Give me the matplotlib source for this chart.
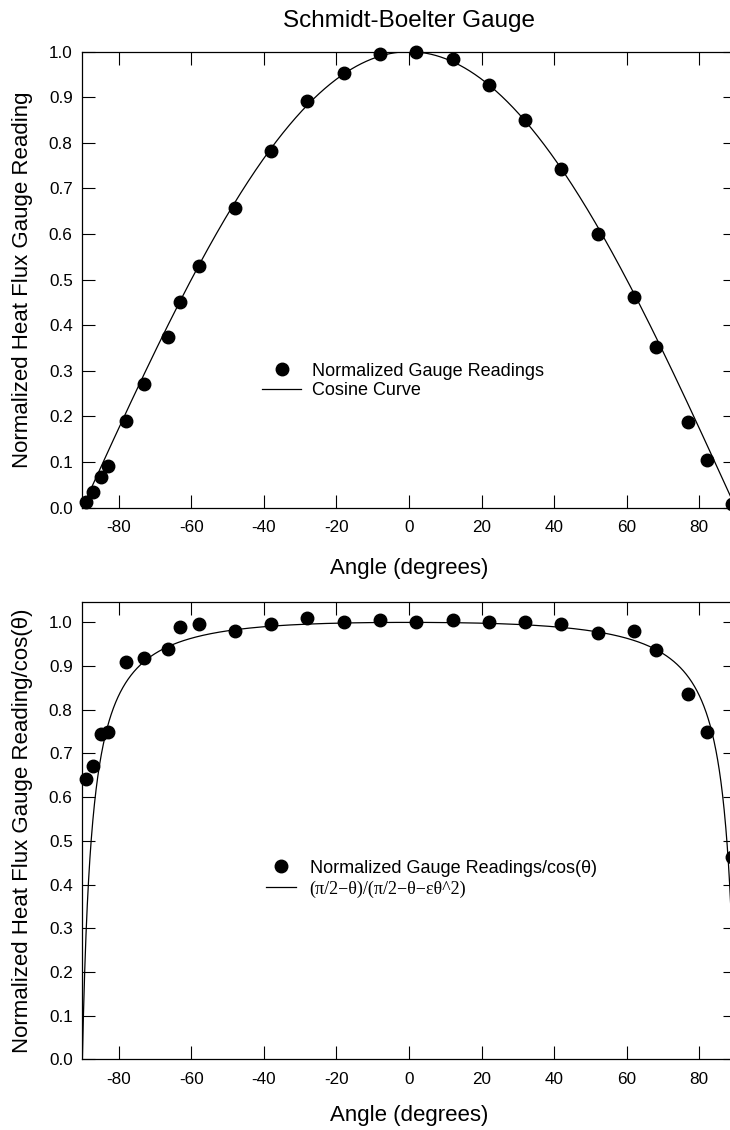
import numpy as np
import matplotlib
matplotlib.use("Agg")
import matplotlib.pyplot as plt
from matplotlib.lines import Line2D

plt.rcParams['font.family'] = ['Liberation Sans', 'DejaVu Sans']
plt.rcParams['axes.unicode_minus'] = False

# ---- data ----
angles = [-89, -87, -85, -83, -78, -73, -66.5, -63, -58, -48, -38, -28, -18, -8,
          2, 12, 22, 32, 42, 52, 62, 68, 77, 82, 89]
readings = [0.012, 0.034, 0.066, 0.090, 0.190, 0.270, 0.375, 0.450, 0.529, 0.657,
            0.783, 0.891, 0.954, 0.995, 0.999, 0.983, 0.928, 0.850, 0.742, 0.601,
            0.461, 0.353, 0.187, 0.104, 0.008]
readings_over_cos = [0.641, 0.672, 0.745, 0.750, 0.909, 0.918, 0.939, 0.990, 0.996,
                     0.980, 0.996, 1.010, 1.000, 1.005, 1.000, 1.005, 1.000, 1.000,
                     0.996, 0.975, 0.980, 0.936, 0.837, 0.750, 0.464]
epsilon = 0.018  # curve parameter of the fitted model

xticks = [-80, -60, -40, -20, 0, 20, 40, 60, 80]
yticks = [0.0, 0.1, 0.2, 0.3, 0.4, 0.5, 0.6, 0.7, 0.8, 0.9, 1.0]

theta_deg = np.linspace(-90, 90, 2001)
theta = np.radians(theta_deg)
cos_curve = np.cos(theta)
a = np.pi / 2 - np.abs(theta)
model_curve = a / (a + epsilon * theta ** 2)

W, H = 730, 1130
fig = plt.figure(figsize=(W / 100, H / 100), dpi=100)

def px_axes(left, right, top, bottom):
    return [left / W, 1 - bottom / H, (right - left) / W, (bottom - top) / H]

ax1 = fig.add_axes(px_axes(82.4, 735.6, 51.7, 507.5))
ax2 = fig.add_axes(px_axes(82.4, 735.6, 602.3, 1059.3))

for ax in (ax1, ax2):
    ax.set_xlim(-90, 90)
    ax.set_xticks(xticks)
    ax.set_yticks(yticks)
    ax.set_yticklabels([f"{v:.1f}" for v in yticks])
    ax.tick_params(axis='both', direction='in', length=9.5, width=0.8,
                   top=True, right=True, labelsize=12.3, colors='black')
    ax.tick_params(axis='x', pad=9)
    ax.tick_params(axis='y', pad=7)
    for s in ax.spines.values():
        s.set_linewidth(0.9)
    ax.set_xlabel("Angle (degrees)", fontsize=16)

ax1.xaxis.set_label_coords(0.5, -0.11)
ax2.xaxis.set_label_coords(0.5, -0.1)

ax1.set_ylim(0, 1.0)
ax2.set_ylim(0, 1.046)

# top panel
ax1.plot(theta_deg, cos_curve, color='black', lw=0.9)
ax1.plot(angles, readings, 'o', color='black', ms=9, clip_on=False)
ax1.set_ylabel("Normalized Heat Flux Gauge Reading", fontsize=16)
ax1.yaxis.set_label_coords(-0.0756, 0.5)
ax1.set_title("Schmidt-Boelter Gauge", fontsize=17.5, pad=18)

h1 = [Line2D([], [], ls='none', marker='o', color='black', ms=9),
      Line2D([], [], color='black', lw=0.9)]
leg1 = ax1.legend(h1, ['Normalized Gauge Readings', 'Cosine Curve'],
                  loc='upper left', bbox_to_anchor=(0.2745, 0.318),
                  frameon=False, fontsize=13, handlelength=2.2,
                  handletextpad=0.6, borderpad=0, borderaxespad=0,
                  labelspacing=0.15)

# bottom panel
ax2.plot(theta_deg, model_curve, color='black', lw=0.9)
ax2.plot(angles, readings_over_cos, 'o', color='black', ms=9, clip_on=False)
ax2.set_ylabel("Normalized Heat Flux Gauge Reading/cos(θ)", fontsize=16)
ax2.yaxis.set_label_coords(-0.0756, 0.5)

h2 = [Line2D([], [], ls='none', marker='o', color='black', ms=9),
      Line2D([], [], color='black', lw=0.9)]
leg2 = ax2.legend(h2, ['Normalized Gauge Readings/cos(θ)',
                       '(π/2−θ)/(π/2−θ−εθ^2)'],
                  loc='upper left', bbox_to_anchor=(0.281, 0.437),
                  frameon=False, fontsize=13, handlelength=1.65,
                  handletextpad=0.77, borderpad=0, borderaxespad=0,
                  labelspacing=0.2)
leg2.get_texts()[1].set_family(['Liberation Serif', 'DejaVu Serif'])
leg2.get_texts()[1].set_fontsize(13)

fig.savefig("out.png", dpi=100)
